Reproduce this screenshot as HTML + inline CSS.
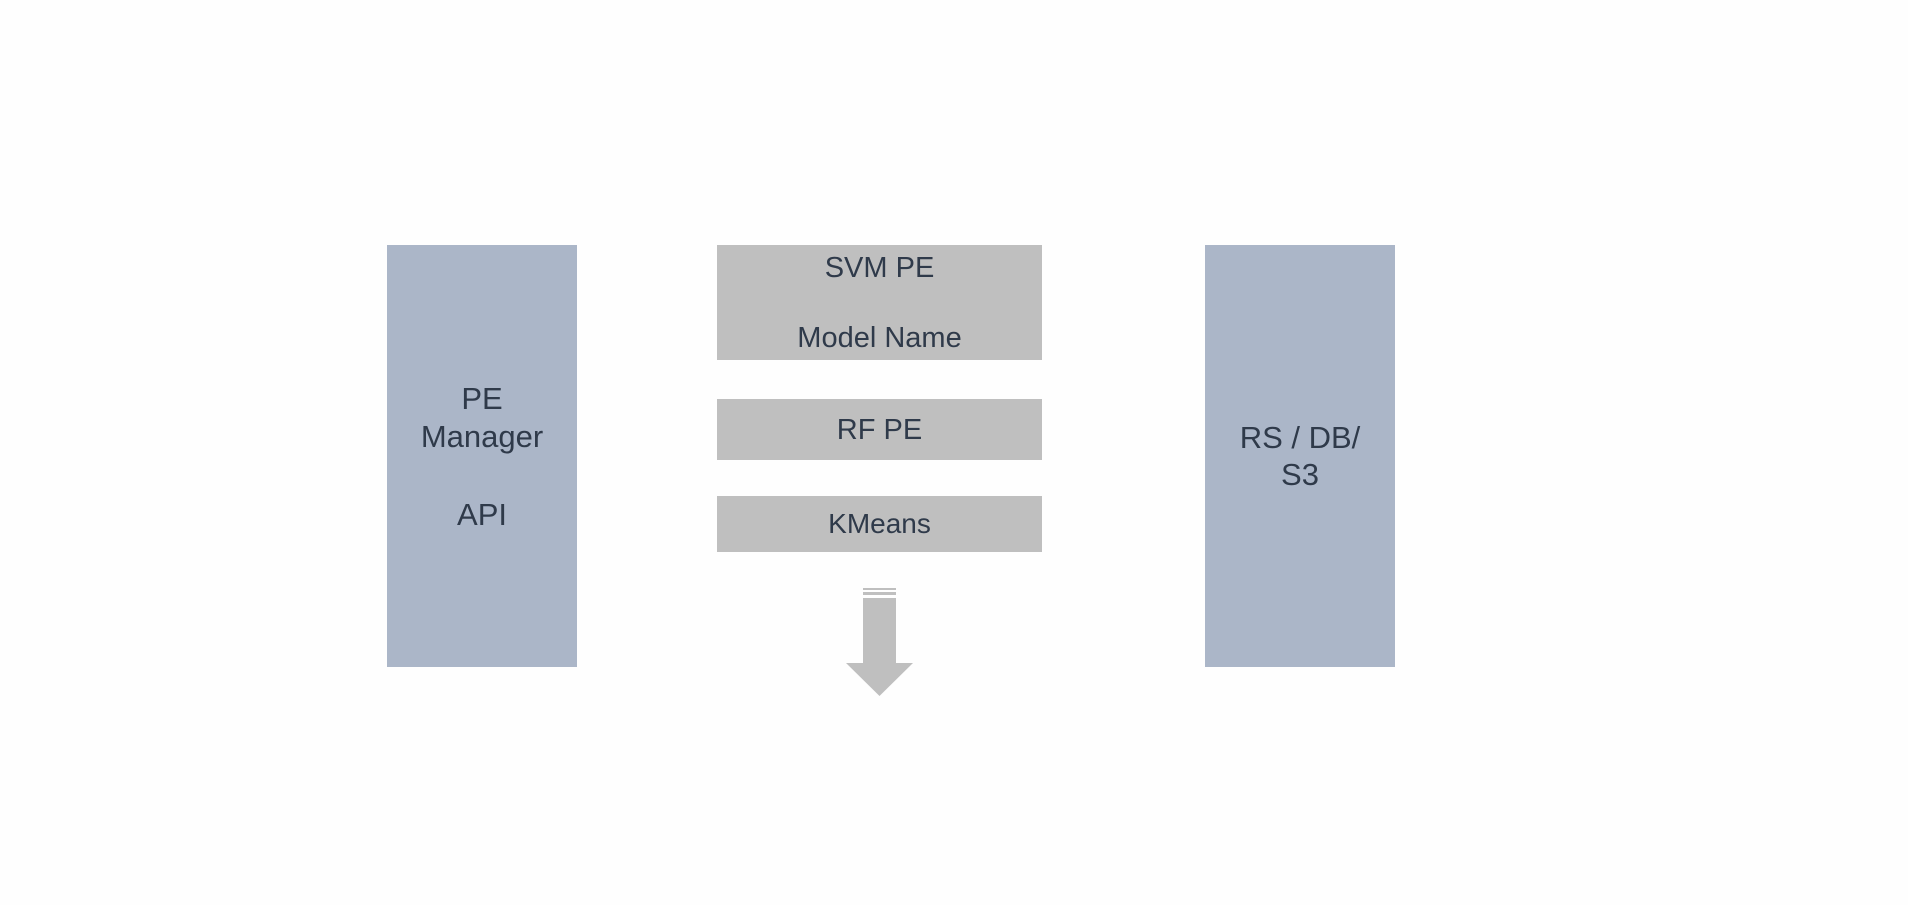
<!DOCTYPE html>
<html><head><style>
body{margin:0;width:1908px;height:905px;background:#fefefe;position:relative;overflow:hidden;font-family:"Liberation Sans",sans-serif;color:#2f3a4a}
.b{position:absolute}
.t{position:absolute;left:0;right:0;text-align:center;font-size:29px;line-height:38px;transform:translateY(-50%)}
.s .t{font-size:31px}
</style></head><body>
<div class="b" style="left:387px;top:245px;width:190px;height:422px;background:#abb6c8"></div>
<div class="b" style="left:1205px;top:245px;width:190px;height:422px;background:#abb6c8"></div>
<div class="b" style="left:717px;top:245px;width:325px;height:115px;background:#bfbfbf"></div>
<div class="b" style="left:717px;top:399px;width:325px;height:61px;background:#bfbfbf"></div>
<div class="b" style="left:717px;top:496px;width:325px;height:56px;background:#bfbfbf"></div>

<div class="b s" style="left:387px;width:190px;top:0"><div class="t" style="top:399px">PE</div><div class="t" style="top:437px">Manager</div><div class="t" style="top:515px">API</div></div>
<div class="b s" style="left:1205px;width:190px;top:0"><div class="t" style="top:438px">RS / DB/</div><div class="t" style="top:475px">S3</div></div>
<div class="b" style="left:717px;width:325px;top:0"><div class="t" style="top:268px">SVM PE</div><div class="t" style="top:338px">Model Name</div><div class="t" style="top:430px">RF PE</div><div class="t" style="top:524px;font-size:28px">KMeans</div></div>

<svg class="b" style="left:0;top:0" width="1908" height="905">
<rect x="863" y="588" width="33" height="2" fill="#bfbfbf"/>
<rect x="863" y="592" width="33" height="3" fill="#bfbfbf"/>
<polygon points="863,598 896,598 896,663 913,663 879.5,696 846,663 863,663" fill="#bfbfbf"/>
</svg>
</body></html>
